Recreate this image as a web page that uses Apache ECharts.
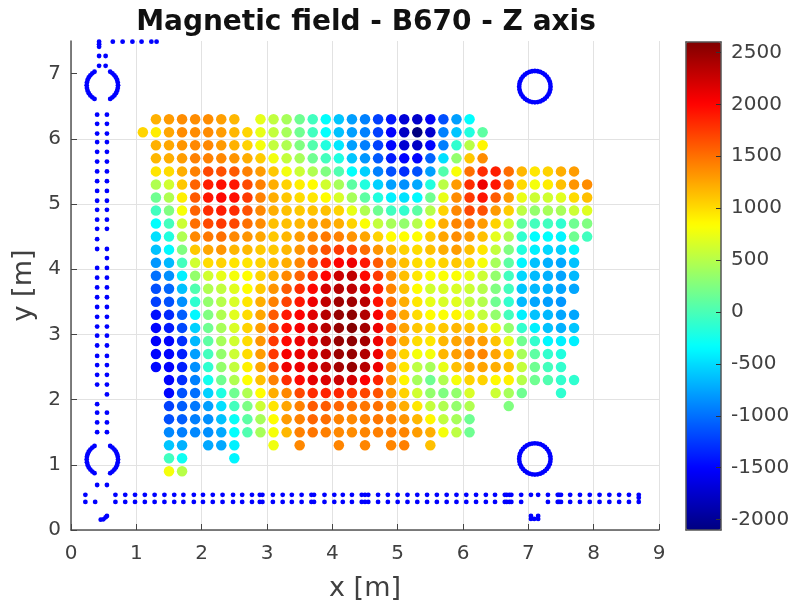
<!DOCTYPE html>
<html>
<head>
<meta charset="utf-8">
<style>html,body{margin:0;padding:0;background:#fff}#c{width:793px;height:603px}</style>
<script src="https://cdn.jsdelivr.net/npm/echarts@6/dist/echarts.min.js"></script>
</head>
<body>
<div id="c"></div>
<script>
const _ = null;
const columnsX = [1.1,1.3,1.5,1.7,1.9,2.1,2.3,2.5,2.7,2.9,3.1,3.3,3.5,3.7,3.9,4.1,4.3,4.5,4.7,4.9,5.1,5.3,5.5,5.7,5.9,6.1,6.3,6.5,6.7,6.9,7.1,7.3,7.5,7.7,7.9];
const rowsY = [6.3,6.1,5.9,5.7,5.5,5.3,5.1,4.9,4.7,4.5,4.3,4.1,3.9,3.7,3.5,3.3,3.1,2.9,2.7,2.5,2.3,2.1,1.9,1.7,1.5,1.3,1.1,0.9];
const fieldZ = [
[_,1200,1300,1370,1370, 1370,1280,1170,_,720, 550,430,170,-40,-330, -600,-780,-920,-1220,-1430, -1700,-1760,-1550,-1150,-780, -340],
[1030,920,1250,1370,1370, 1370,1290,1170,1030,730, 560,430,170,-40,-330, -620,-780,-920,-1220,-1520, -1780,-2100,-1750,-920,-600, -190,90],
[_,1200,1240,1330,1390, 1390,1300,1200,1040,790, 560,470,250,40,-190, -440,-780,-930,-1220,-1500, -1720,-1780,-1500,-930,-120, 510,880],
[_,1170,1210,1290,1420, 1420,1390,1330,1210,1080, 780,560,430,170,-30, -200,-600,-820,-1100,-1400, -1510,-1500,-1060,-480,340, 1090,1370],
[_,960,1000,1210,1420, 1680,1640,1600,1420,1300, 1090,780,600,470,250, 30,-320,-550,-920,-1150, -1300,-1140,-780,40,810, 1500,1810,1880,1510,1170, 950,1040,1210,1290],
[_,470,620,1090,1560, 1880,1950,1910,1670,1420, 1210,1040,910,850,620, 430,90,-190,-550,-780, -850,-740,-190,520,1300, 1810,2090,1920,1470,1000, 790,920,1130,1330,1370],
[_,170,470,910,1600, 1910,1980,1950,1750,1420, 1210,1090,1000,950,840, 660,430,90,-190,-400, -470,-360,170,730,1370, 1750,1920,1600,1290,740, 600,620,700,1000,1130],
[_,-40,250,800,1560, 1810,1880,1810,1640,1390, 1210,1130,1090,1120,1130, 1040,730,470,170,-40, -110,90,500,1040,1390, 1680,1640,1300,1070,530, 340,430,430,600,690],
[_,-330,-30,600,1500, 1680,1750,1680,1500,1370, 1130,1130,1170,1250,1290, 1210,1040,820,560,430, 340,500,860,1210,1400, 1460,1300,1040,600,90, -30,-40,-120,170,250],
[_,-480,-190,470,1390, 1460,1500,1390,1330,1250, 1090,1170,1290,1390,1460, 1420,1330,1250,1040,840, 840,840,1090,1250,1370, 1290,1130,720,470,-120, -340,-330,-380,170,-40],
[_,-620,-360,250,1090, 1250,1330,1170,1160,1090, 1090,1170,1330,1460,1640, 1750,1680,1510,1330,1170, 1040,1000,1130,1210,1290, 1130,950,560,250,-190, -400,-520,-560,-380],
[_,-820,-660,-30,620, 1000,1040,960,960,1040, 1130,1210,1390,1640,1880, 2010,2090,1900,1600,1290, 1130,1000,950,1040,1090, 1000,790,430,90,-380, -620,-700,-740,-620],
[_,-1000,-850,-400,340, 620,730,790,840,1040, 1200,1390,1560,1780,2010, 2250,2300,1980,1750,1370, 1130,950,820,820,820, 740,600,340,-40,-520, -650,-700,-760,-660],
[_,-1150,-1040,-620,30, 470,550,700,840,1090, 1330,1600,1810,1980,2200, 2350,2320,2150,1890,1400, 1130,840,620,660,660, 600,500,250,-30,-600, -660,-700,-760,-750],
[_,-1220,-1140,-850,-120, 340,500,660,950,1210, 1420,1710,1910,2090,2300, 2450,2450,2330,1950,1500, 1210,950,730,660,700, 560,490,170,-110,-660, -750,-780,-820],
[_,-1450,-1330,-1080,-370, 250,470,700,1000,1250, 1600,1910,2010,2150,2350, 2500,2530,2370,2040,1600, 1250,1000,840,820,880, 730,560,340,-30,-400, -620,-660,-750,-750],
[_,-1500,-1400,-1180,-550, 170,430,660,1040,1290, 1680,1950,2050,2200,2350, 2500,2580,2430,2090,1640, 1260,1090,1040,1090,1170, 1130,1040,730,340,-110, -400,-620,-700,-600],
[_,-1530,-1500,-1300,-660, 90,430,620,1000,1330, 1750,1980,2090,2170,2350, 2500,2530,2430,2090,1640, 1210,1000,950,1170,1260, 1290,1290,1120,700,170, -110,-370,-400,-400],
[_,-1510,-1500,-1370,-780, -30,340,600,1000,1300, 1750,2050,2100,2170,2320, 2470,2500,2370,2090,1420, 1040,790,790,1170,1290, 1370,1400,1260,1040,430, 90,-110,-190],
[_,-1490,-1510,-1370,-850, -120,340,560,900,1260, 1680,2090,2090,2170,2300, 2430,2500,2350,2090,1400, 950,530,430,730,1130, 1250,1260,1210,1130,560, 170,-30,-110],
[_,_,-1500,-1300,-920, -260,170,470,830,1130, 1420,1810,1970,2130,2170, 2250,2200,2010,1850,1330, 880,430,170,470,790, 1040,1040,860,900,500, 170,30,-110,-120],
[_,_,-1490,-1140,-1000, -550,-200,170,470,840, 1210,1390,1680,1810,1850, 1850,1750,1690,1640,1330, 1040,620,340,250,340, 660,_,600,430,170, _,_,-120],
[_,_,-1220,-1080,-960, -780,-480,-30,230,600, 960,1250,1420,1600,1600, 1560,1500,1470,1500,1370, 1210,950,560,470,340, 470,_,_,250],
[_,_,-1150,-1080,-930, -850,-620,-300,90,430, 840,1300,1420,1550,1510, 1420,1390,1420,1470,1400, 1330,1170,880,550,430, 170],
[_,_,-890,-930,-890, -850,-740,-330,30,430, 790,1170,1420,1470,1430, 1390,1370,1400,1430,1420, 1400,1290,1210,790,530, 170],
[_,_,-600,-700,_, -740,-740,-400,_,_, 770,_,1390,_,_, 1400,_,1400,_,1400, 1430,_,1130],
[_,_,-40,-280,_, _,_,-380],
[_,_,790,510]
];

// Blue sensor markers
const railLeftX = 0.40, railRightX = 0.55;
const railBothY = [6.37,6.23,5.80,5.65,5.50,5.35,5.20,5.05,4.91,4.76,4.62,4.31,4.02,3.87,3.72,3.57,3.42,3.27,3.12,2.98,2.83,2.67,2.53,2.38,2.23,1.80,1.65,1.50,0.69];
const railLeftOnlyY = [6.08,5.95,4.46,1.93];
const railRightOnlyY = [6.08,5.95,4.17,2.08];
const topCorner = [[0.43,7.49],[0.43,7.45],[0.43,7.41],[0.64,7.49],[0.79,7.49],[0.94,7.49],[1.08,7.49],[1.23,7.49],[1.31,7.49],[0.43,7.27],[0.53,7.27],[0.43,7.12],[0.53,7.12]];
const bottomBothX = [0.68,0.83,0.98,1.13,1.28,1.43,1.58,1.72,1.88,2.02,2.17,2.32,2.48,2.62,2.77,2.89,2.93,3.09,3.24,3.38,3.53,3.68,3.72,3.88,4.03,4.16,4.30,4.45,4.50,4.55,4.70,4.85,5.00,5.15,5.30,5.45,5.60,5.75,5.90,6.05,6.20,6.35,6.49,6.64,6.67,6.71,6.74,6.89,7.30,7.45,7.47,7.50,7.64,7.79,7.94,8.09,8.24,8.39,8.54,8.69];
const bottomTopY = 0.54, bottomLowY = 0.43;
const bottomExtras = [[0.22,0.54],[0.22,0.43],[0.37,0.43],[7.04,0.54],[7.15,0.54],[8.69,0.495],[0.455,0.158],[0.495,0.164],[0.53,0.195],[0.55,0.215],[7.04,0.215],[7.04,0.17],[7.09,0.17],[7.15,0.215],[7.15,0.17]];
const ringSides = [[0.12,0.208],[0.154,0.184],[0.184,0.154],[0.208,0.12],[0.226,0.082],[0.236,0.042],[0.24,0],[0.236,-0.042],[0.226,-0.082],[0.208,-0.12],[0.184,-0.154],[0.154,-0.184],[0.12,-0.208],
 [-0.12,0.208],[-0.154,0.184],[-0.184,0.154],[-0.208,0.12],[-0.226,0.082],[-0.236,0.042],[-0.24,0],[-0.236,-0.042],[-0.226,-0.082],[-0.208,-0.12],[-0.184,-0.154],[-0.154,-0.184],[-0.12,-0.208]];
const ringCaps = [[0,0.24],[0.042,0.236],[0.082,0.226],[-0.042,0.236],[-0.082,0.226],[0,-0.24],[0.042,-0.236],[0.082,-0.226],[-0.042,-0.236],[-0.082,-0.226]];
const openRingCentres = [[0.48,6.82],[0.48,1.08]];
const fullRingCentres = [[7.10,6.80],[7.10,1.09]];

const jet = ['#000080','#0000ff','#0080ff','#00ffff','#80ff80','#ffff00','#ff8000','#ff0000','#800000'];
const colorTicks = [-2000,-1500,-1000,-500,0,500,1000,1500,2000,2500];
const yTicks = [0,1,2,3,4,5,6,7];

const fieldPoints = [];
fieldZ.forEach((row, r) => row.forEach((v, c) => { if (v !== null) fieldPoints.push([columnsX[c], rowsY[r], v]); }));

const blue = [...topCorner, ...bottomExtras];
railBothY.forEach(y => blue.push([railLeftX, y], [railRightX, y]));
railLeftOnlyY.forEach(y => blue.push([railLeftX, y]));
railRightOnlyY.forEach(y => blue.push([railRightX, y]));
bottomBothX.forEach(x => blue.push([x, bottomTopY], [x, bottomLowY]));
openRingCentres.forEach(([cx, cy]) => ringSides.forEach(([dx, dy]) => blue.push([cx + dx, cy + dy])));
fullRingCentres.forEach(([cx, cy]) => [...ringSides, ...ringCaps].forEach(([dx, dy]) => blue.push([cx + dx, cy + dy])));

const FONT = 'DejaVu Sans';
const INK = '#404040';
const chart = echarts.init(document.getElementById('c'), null, {renderer: 'canvas'});
chart.setOption({
  animation: false,
  backgroundColor: '#fff',
  title: {
    text: 'Magnetic field - B670 - Z axis', left: 361, top: 4, textAlign: 'center',
    textStyle: {fontFamily: FONT, fontWeight: 'bold', fontSize: 28, color: '#111'}
  },
  grid: [
    {left: 71, right: 134, top: 41, bottom: 73, outerBoundsMode: 'none'},
    {left: 686, width: 35, top: 42, bottom: 73, outerBoundsMode: 'none'}
  ],
  xAxis: [
    {type: 'value', gridIndex: 0, min: 0, max: 9, interval: 1, name: 'x [m]', nameLocation: 'middle', nameGap: 45,
     nameTextStyle: {fontFamily: FONT, fontSize: 27, color: INK},
     axisLine: {show: true, onZero: false, lineStyle: {color: '#555', width: 1.5}},
     axisTick: {show: true, inside: true, length: 6, lineStyle: {color: '#444'}},
     axisLabel: {fontFamily: FONT, fontSize: 20, color: INK, margin: 14},
     splitLine: {show: true, lineStyle: {color: '#e2e2e2', width: 1}}},
    {type: 'value', gridIndex: 1, min: 0, max: 1, position: 'bottom', z: 10, axisLine: {show: true, onZero: false, lineStyle: {color: '#555', width: 1.5}}, axisTick: {show: false}, axisLabel: {show: false}, splitLine: {show: false}},
    {type: 'value', gridIndex: 1, min: 0, max: 1, position: 'top', z: 10, axisLine: {show: true, onZero: false, lineStyle: {color: '#555', width: 1.5}}, axisTick: {show: false}, axisLabel: {show: false}, splitLine: {show: false}}
  ],
  yAxis: [
    {type: 'value', gridIndex: 0, min: 0, max: 7.5, interval: 1, name: 'y [m]', nameLocation: 'middle', nameGap: 27,
     nameTextStyle: {fontFamily: FONT, fontSize: 27, color: INK},
     axisLine: {show: true, onZero: false, lineStyle: {color: '#555', width: 1.5}},
     axisTick: {show: true, inside: true, length: 6, lineStyle: {color: '#444'}, customValues: yTicks},
     axisLabel: {fontFamily: FONT, fontSize: 20, color: INK, margin: 10, customValues: yTicks},
     splitLine: {show: true, showMaxLine: false, lineStyle: {color: '#e2e2e2', width: 1}}},
    {type: 'value', gridIndex: 1, min: -2100, max: 2600, position: 'right', z: 10,
     axisLine: {show: true, onZero: false, lineStyle: {color: '#555', width: 1.5}},
     axisTick: {show: true, inside: true, length: 5, lineStyle: {color: '#333'}, customValues: colorTicks},
     axisLabel: {fontFamily: FONT, fontSize: 20, color: INK, margin: 10, customValues: colorTicks, formatter: v => String(v)},
     splitLine: {show: false}},
    {type: 'value', gridIndex: 1, min: -2100, max: 2600, position: 'left', z: 10,
     axisLine: {show: true, onZero: false, lineStyle: {color: '#555', width: 1.5}},
     axisTick: {show: false}, axisLabel: {show: false}, splitLine: {show: false}}
  ],
  visualMap: {
    type: 'continuous', seriesIndex: 0, dimension: 2, min: -2100, max: 2600,
    left: 686, top: 42, itemWidth: 35, itemHeight: 488, padding: 0,
    calculable: false, realtime: false, hoverLink: false, text: ['', ''], showLabel: false,
    inRange: {color: jet}
  },
  series: [
    {type: 'scatter', xAxisIndex: 0, yAxisIndex: 0, symbolSize: 10.5, data: fieldPoints, silent: true, clip: false, itemStyle: {opacity: 1}},
    {type: 'scatter', xAxisIndex: 0, yAxisIndex: 0, symbolSize: 4.8, data: blue, silent: true, clip: false,
     itemStyle: {color: '#0000ff', opacity: 1}}
  ]
});
</script>
</body>
</html>
